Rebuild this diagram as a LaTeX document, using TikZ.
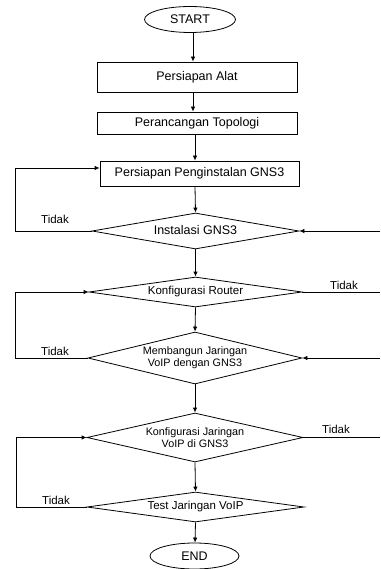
\documentclass[tikz,border=0pt]{standalone}
\usepackage{fontspec}
\setmainfont{Liberation Sans}
\usetikzlibrary{shapes.geometric,arrows.meta}
\begin{document}
\begin{tikzpicture}[x=1pt,y=-1pt,
  line width=0.8pt,
  arr/.style={-{Latex[length=5pt,width=4.5pt]}},
  ln/.style={},
  term/.style={draw,ellipse,inner sep=0pt,font=\fontsize{12.5}{14}\selectfont},
  procbox/.style={draw,rectangle,inner sep=0pt,font=\fontsize{12.5}{14}\selectfont},
  decis/.style={draw,diamond,inner sep=0pt},
  big/.style={font=\fontsize{12.5}{14}\selectfont},
  mid/.style={font=\fontsize{11.5}{13}\selectfont},
  small/.style={font=\fontsize{10.8}{12}\selectfont,align=center},
  lbl/.style={font=\fontsize{11.5}{13}\selectfont,inner sep=0pt}
]
\useasboundingbox (0,0) rectangle (380,569);
% terminals and boxes
\node[term,minimum width=91pt,minimum height=26pt] (start) at (190,19.5) {START};
\node[procbox,minimum width=200pt,minimum height=30pt] (alat) at (197,77) {Persiapan Alat};
\node[procbox,minimum width=200pt,minimum height=22pt] (topo) at (197,123) {Perancangan Topologi};
\node[procbox,minimum width=199pt,minimum height=25pt] (prep) at (199.5,173.5) {Persiapan Penginstalan GNS3};
% decisions
\node[decis,minimum width=207pt,minimum height=36pt,aspect=5.75] (d1) at (195.5,231) {};
\node[big] (d1t) at (195.5,230) {Instalasi GNS3};
\node[decis,minimum width=213pt,minimum height=30pt,aspect=7.1] (d2) at (195.5,292) {};
\node[mid] (d2t) at (195.5,292) {Konfigurasi Router};
\node[decis,minimum width=214pt,minimum height=52pt,aspect=4.1] (d3) at (195,358) {};
\node[small] (d3t) at (195,358) {Membangun Jaringan\\VoIP dengan GNS3};
\node[decis,minimum width=216pt,minimum height=49pt,aspect=4.4] (d4) at (195,437.5) {};
\node[small] (d4t) at (195,437.5) {Konfigurasi Jaringan\\VoIP di GNS3};
\node[decis,minimum width=217pt,minimum height=30pt,aspect=7.2] (d5) at (195.5,507) {};
\node[mid] (d5t) at (195.5,507) {Test Jaringan VoIP};
\node[term,minimum width=89pt,minimum height=26pt] (end) at (194.5,556) {END};
% main column
\coordinate (cx) at (195,0);
\coordinate (cy) at (193,0);
\draw[arr] (cy |- start.south) -- (cy |- alat.north);
\draw[arr] (cy |- alat.south) -- (cy |- topo.north);
\draw[arr] (cx |- topo.south) -- (cx |- prep.north);
\draw[arr] (cx |- prep.south) -- (d1.north);
\draw[arr] (d1.south) -- (d2.north);
\draw[arr] (d2.south) -- (d3.north);
\draw[arr] (d3.south) -- (d4.north);
\draw[arr] (d4.south) -- (d5.north);
\draw[arr] (d5.south) -- (cx |- end.north);
% left loops
\coordinate (L1a) at (15,231);
\coordinate (L1b) at (15,168);
\draw[arr] (d1.west) -- (L1a) -- (L1b) -- (L1b -| prep.west);
\node[lbl] (t1) at (55,219) {Tidak};
\coordinate (L2a) at (15,358);
\coordinate (L2b) at (15,292);
\draw[arr] (d3.west) -- (L2a) -- (L2b) -- (d2.west);
\node[lbl] (t3) at (55,351) {Tidak};
\coordinate (L3a) at (16,507);
\coordinate (L3b) at (16,437.5);
\draw[arr] (d5.west) -- (L3a) -- (L3b) -- (d4.west);
\node[lbl] (t5) at (56,500) {Tidak};
% right side
\coordinate (R1) at (380,231);
\draw[arr] (R1) -- (d1.east);
\coordinate (R2) at (380,292);
\draw (d2.east) -- (R2);
\node[lbl] (t2) at (344,285) {Tidak};
\coordinate (R3) at (380,358);
\draw[arr] (R3) -- (d3.east);
\coordinate (R4) at (380,437.5);
\draw (d4.east) -- (R4);
\node[lbl] (t4) at (336,429) {Tidak};
\end{tikzpicture}
\end{document}
